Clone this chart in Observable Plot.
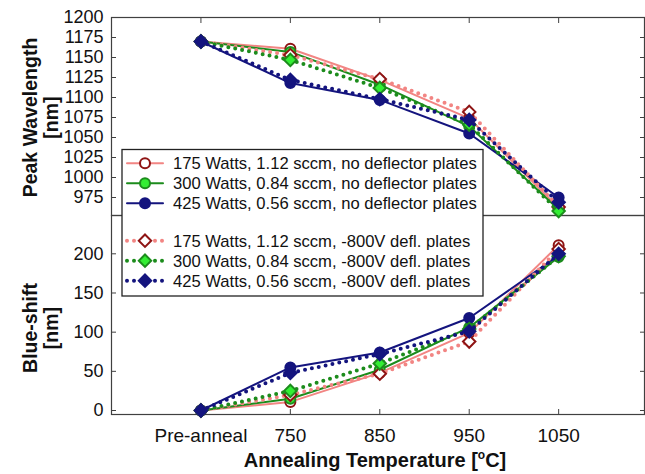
<!DOCTYPE html>
<html><head><meta charset="utf-8">
<script src="https://cdn.jsdelivr.net/npm/d3@7"></script>
<script src="https://cdn.jsdelivr.net/npm/@observablehq/plot@0.6"></script>
<style>
body{margin:0;background:#fff}
#chart{position:relative;width:645px;height:474px;font-family:"Liberation Sans",Arial,Helvetica,sans-serif}
#chart svg{position:absolute;left:0;overflow:visible}
</style></head><body><div id="chart"></div>
<script>
// ---- data ----
const categories = ["Pre-anneal", "750", "850", "950", "1050"];
const seriesLabels = [
  "175 Watts, 1.12 sccm, no deflector plates",
  "300 Watts, 0.84 sccm, no deflector plates",
  "425 Watts, 0.56 sccm, no deflector plates",
  "175 Watts, 1.12 sccm, -800V defl. plates",
  "300 Watts, 0.84 sccm, -800V defl. plates",
  "425 Watts, 0.56 sccm, -800V defl. plates"
];
// Peak wavelength [nm]
const peak175NoDefl = [1170, 1161, 1122, 1074, 962];
const peak300NoDefl = [1170, 1157, 1116, 1064, 960];
const peak425NoDefl = [1170, 1118, 1097, 1055, 975];
const peak175Defl   = [1170, 1153, 1123, 1082, 963];
const peak300Defl   = [1170, 1147, 1112, 1066, 958];
const peak425Defl   = [1170, 1122, 1098, 1072, 969];
// Blue-shift [nm]
const shift175NoDefl = [0, 11, 48, 99, 211];
const shift300NoDefl = [0, 15, 52, 106, 196];
const shift425NoDefl = [0, 55, 74, 118, 198];
const shift175Defl   = [0, 20, 47, 88, 206];
const shift300Defl   = [0, 25, 60, 104, 197];
const shift425Defl   = [0, 48, 72, 101, 200];
const peakTicks = [975, 1000, 1025, 1050, 1075, 1100, 1125, 1150, 1175, 1200];
const shiftTicks = [0, 50, 100, 150, 200];

// ---- styles ----
const FONT = '"Liberation Sans", Arial, Helvetica, sans-serif';
const AX = "#404040";
const salmon = "#f28583", dred = "#8e1414", green = "#1c8c1c", lime = "#33ee33", navy = "#14147e";
const styles = [
  {line: salmon, dotted: false, symbol: "circle",   r: 5,   fill: "white", stroke: dred},
  {line: green,  dotted: false, symbol: "circle",   r: 5,   fill: lime,    stroke: green},
  {line: navy,   dotted: false, symbol: "circle",   r: 5,   fill: navy,    stroke: navy},
  {line: salmon, dotted: true,  symbol: "diamond2", r: 5.6, fill: "white", stroke: dred},
  {line: green,  dotted: true,  symbol: "diamond2", r: 5.6, fill: lime,    stroke: green},
  {line: navy,   dotted: true,  symbol: "diamond2", r: 5.6, fill: navy,    stroke: navy}
];
const xIdx = categories.map((c, i) => i);
const xDomain = [-1, 4.96];

function seriesMarks(values, st) {
  const data = values.map((v, i) => ({i, v}));
  return [
    Plot.line(data, {x: "i", y: "v", stroke: st.line,
      strokeWidth: st.dotted ? 4 : 2,
      strokeDasharray: st.dotted ? "0 7" : null,
      strokeLinecap: "round", strokeLinejoin: "round"}),
    Plot.dot(data, {x: "i", y: "v", symbol: st.symbol, r: st.r,
      fill: st.fill, stroke: st.stroke, strokeWidth: 2})
  ];
}
const blank = () => "";
const plain = d => String(d);

const peakSeries = [peak175NoDefl, peak300NoDefl, peak425NoDefl, peak175Defl, peak300Defl, peak425Defl];
const shiftSeries = [shift175NoDefl, shift300NoDefl, shift425NoDefl, shift175Defl, shift300Defl, shift425Defl];

const topPlot = Plot.plot({
  width: 645, height: 216,
  marginLeft: 111, marginRight: 1, marginTop: 17, marginBottom: 1,
  style: {background: "transparent", fontFamily: FONT, overflow: "visible"},
  x: {domain: xDomain, axis: null},
  y: {domain: [952.5, 1200], axis: null},
  marks: [
    Plot.frame({stroke: AX, strokeWidth: 1.2}),
    Plot.axisY(peakTicks, {anchor: "left", tickSize: 0, tickPadding: 8, fontSize: 18, fill: "#111", tickFormat: plain, label: null}),
    Plot.axisY(peakTicks, {anchor: "left", tickSize: -5, tickFormat: blank, stroke: AX, label: null}),
    Plot.axisY(peakTicks, {anchor: "right", tickSize: -5, tickFormat: blank, stroke: AX, label: null}),
    Plot.axisX(xIdx, {anchor: "top", tickSize: -5, tickFormat: blank, stroke: AX, label: null}),
    ...peakSeries.flatMap((s, k) => seriesMarks(s, styles[k])),
    Plot.text(["Peak Wavelength\n[nm]"], {frameAnchor: "left", dx: -71, dy: 1, rotate: -90,
      textAnchor: "middle", lineAnchor: "middle",
      fontWeight: "bold", fontSize: 19.5, lineHeight: 1.12, fill: "#111"})
  ]
});

const bottomPlot = Plot.plot({
  width: 645, height: 260,
  marginLeft: 111, marginRight: 1, marginTop: 1, marginBottom: 60,
  style: {background: "transparent", fontFamily: FONT, overflow: "visible"},
  x: {domain: xDomain, axis: null},
  y: {domain: [-5.1, 248.9], axis: null},
  marks: [
    Plot.frame({stroke: AX, strokeWidth: 1.2}),
    Plot.axisY(shiftTicks, {anchor: "left", tickSize: 0, tickPadding: 8, fontSize: 18, fill: "#111", tickFormat: plain, label: null}),
    Plot.axisY(shiftTicks, {anchor: "left", tickSize: -5, tickFormat: blank, stroke: AX, label: null}),
    Plot.axisY(shiftTicks, {anchor: "right", tickSize: -5, tickFormat: blank, stroke: AX, label: null}),
    Plot.axisX(xIdx, {anchor: "bottom", tickSize: 0, tickPadding: 14, fontSize: 19, fill: "#111",
      tickFormat: i => categories[i], label: null}),
    Plot.axisX(xIdx, {anchor: "bottom", tickSize: -5, tickFormat: blank, stroke: AX, label: null}),
    ...shiftSeries.flatMap((s, k) => seriesMarks(s, styles[k])),
    Plot.text(["Blue-shift\n[nm]"], {frameAnchor: "left", dx: -71, dy: 13, rotate: -90,
      textAnchor: "middle", lineAnchor: "middle",
      fontWeight: "bold", fontSize: 19.5, lineHeight: 1.12, fill: "#111"})
  ]
});

const chart = document.getElementById("chart");
bottomPlot.style.top = "214px";
topPlot.style.top = "0px";
chart.appendChild(bottomPlot);
chart.appendChild(topPlot);

// x-axis title with superscript
const xt = d3.select(bottomPlot).append("text")
  .attr("x", 375).attr("y", 253)
  .attr("text-anchor", "middle")
  .attr("font-family", FONT).attr("font-weight", "bold").attr("font-size", 20).attr("fill", "#111");
xt.append("tspan").text("Annealing Temperature [");
xt.append("tspan").attr("font-size", 12).attr("dy", -8).text("o");
xt.append("tspan").attr("dy", 8).text("C]");

// ---- legend ----
const leg = d3.select(chart).append("svg")
  .attr("width", 645).attr("height", 474)
  .style("top", "0px").style("pointer-events", "none");
leg.append("rect").attr("x", 122).attr("y", 149.5).attr("width", 361).attr("height", 146.5)
  .attr("fill", "white").attr("stroke", "#222").attr("stroke-width", 1.3);
const rowY = [163.3, 183.3, 203.3, 240.7, 260.7, 280.7];
seriesLabels.forEach((lab, k) => {
  const st = styles[k], y = rowY[k];
  leg.append("line").attr("x1", 127).attr("x2", 163).attr("y1", y).attr("y2", y)
    .attr("stroke", st.line).attr("stroke-width", st.dotted ? 4 : 2)
    .attr("stroke-dasharray", st.dotted ? "0 7" : null).attr("stroke-linecap", "round");
  const sym = st.symbol === "circle" ? d3.symbolCircle : d3.symbolDiamond2;
  leg.append("path").attr("d", d3.symbol(sym, Math.PI * st.r * st.r)())
    .attr("transform", `translate(145,${y})`)
    .attr("fill", st.fill).attr("stroke", st.stroke).attr("stroke-width", 2);
  leg.append("text").attr("x", 173).attr("y", y + 6)
    .attr("font-family", FONT).attr("font-size", 16.6).attr("fill", "#111").text(lab);
});
</script></body></html>
